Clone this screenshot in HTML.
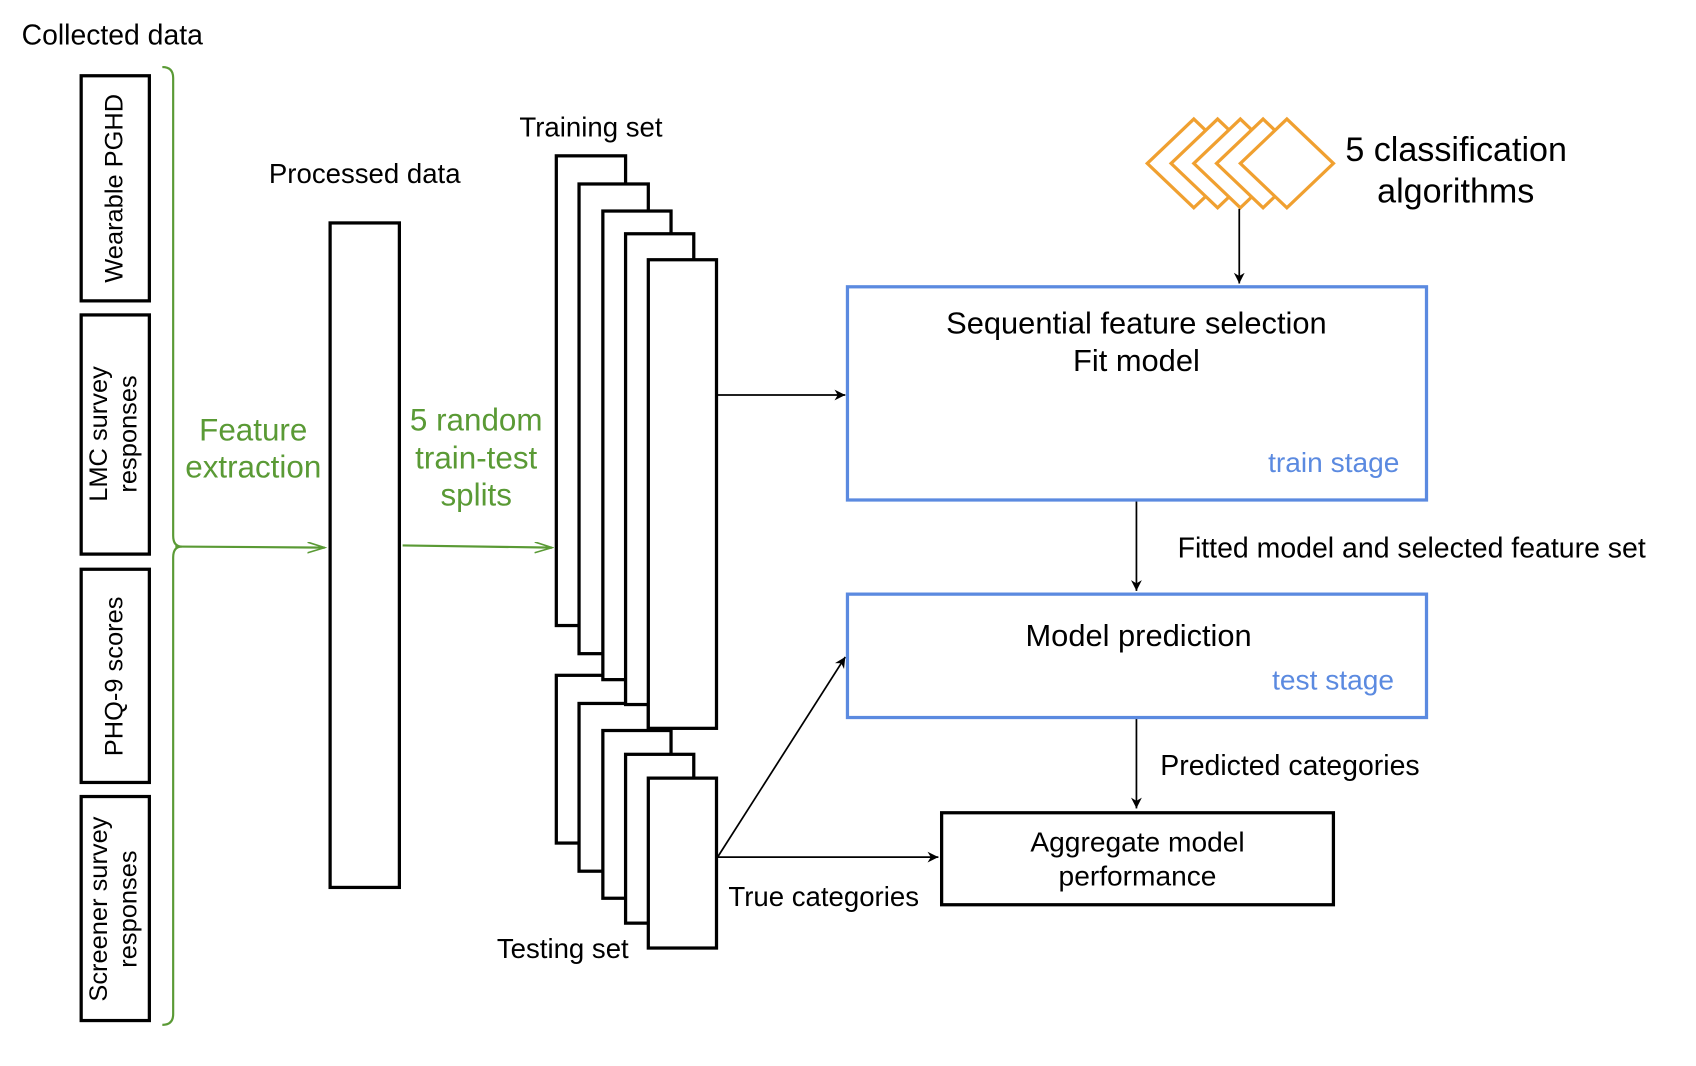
<!DOCTYPE html>
<html><head><meta charset="utf-8"><style>html,body{margin:0;padding:0;background:#fff}svg{display:block}</style></head>
<body>
<svg width="1696" height="1066" viewBox="0 0 1567 985" preserveAspectRatio="none" xmlns="http://www.w3.org/2000/svg" font-family="Liberation Sans, sans-serif">
<defs>
<marker id="ab" markerWidth="12" markerHeight="12" refX="10" refY="5" orient="auto" markerUnits="userSpaceOnUse"><path d="M0,0 L10,5 L0,10 L3,5 Z" fill="#000"/></marker>
<marker id="ag" markerWidth="18" markerHeight="12" refX="16" refY="5" orient="auto" markerUnits="userSpaceOnUse"><path d="M0,0 L16,5 L0,10" fill="none" stroke="#5a9a35" stroke-width="1.5"/></marker>
</defs>
<text x="20" y="41" font-size="26.2">Collected data</text>
<g fill="#fff" stroke="#000" stroke-width="3">
<rect x="75" y="70" width="63" height="208"/>
<rect x="75" y="291" width="63" height="221"/>
<rect x="75" y="526" width="63" height="197"/>
<rect x="75" y="736" width="63" height="207"/>
</g>
<g font-size="23.5" text-anchor="middle">
<text transform="translate(113,174) rotate(-90)">Wearable PGHD</text>
<text transform="translate(99,401) rotate(-90)">LMC survey</text>
<text transform="translate(126,401) rotate(-90)">responses</text>
<text transform="translate(113,625) rotate(-90)">PHQ-9 scores</text>
<text transform="translate(99,840) rotate(-90)">Screener survey</text>
<text transform="translate(126,840) rotate(-90)">responses</text>
</g>
<path d="M150,62 q10,0 10,10 V495 q0,10 8,10 q-8,0 -8,10 V937 q0,10 -10,10" fill="none" stroke="#5a9a35" stroke-width="2"/>
<line x1="162" y1="505" x2="300" y2="506" stroke="#5a9a35" stroke-width="2" marker-end="url(#ag)"/>
<line x1="372" y1="504" x2="510" y2="506" stroke="#5a9a35" stroke-width="2" marker-end="url(#ag)"/>
<g fill="#5a9a35" font-size="29" text-anchor="middle">
<text x="234" y="407">Feature</text>
<text x="234" y="441">extraction</text>
<text x="440" y="398">5 random</text>
<text x="440" y="433">train-test</text>
<text x="440" y="467">splits</text>
</g>
<text x="337" y="169" font-size="25.5" text-anchor="middle">Processed data</text>
<rect x="305" y="206" width="64" height="614" fill="#fff" stroke="#000" stroke-width="3"/>
<g fill="#fff" stroke="#000" stroke-width="3">
<rect x="514" y="624" width="64" height="155"/>
<rect x="535" y="650" width="64" height="155"/>
<rect x="557" y="675" width="63" height="155"/>
<rect x="578" y="697" width="63" height="156"/>
<rect x="599" y="719" width="63" height="157"/>
<rect x="514" y="144" width="64" height="434"/>
<rect x="535" y="170" width="64" height="434"/>
<rect x="557" y="195" width="63" height="433"/>
<rect x="578" y="216" width="63" height="435"/>
<rect x="599" y="240" width="63" height="433"/>
</g>
<text x="546" y="126" font-size="25.5" text-anchor="middle">Training set</text>
<text x="520" y="885" font-size="25.5" text-anchor="middle">Testing set</text>
<g fill="#fff" stroke="#f0a030" stroke-width="3">
<path d="M1060,151 l43,-41 l43,41 l-43,41 Z"/>
<path d="M1082,151 l43,-41 l43,41 l-43,41 Z"/>
<path d="M1103,151 l43,-41 l43,41 l-43,41 Z"/>
<path d="M1124,151 l43,-41 l43,41 l-43,41 Z"/>
<path d="M1146,151 l43,-41 l43,41 l-43,41 Z"/>
</g>
<text x="1243" y="149" font-size="31.5">5 classification</text>
<text x="1345" y="187" font-size="31.5" text-anchor="middle">algorithms</text>
<g stroke="#000" stroke-width="1.6" fill="none">
<line x1="1145" y1="193" x2="1145" y2="262" marker-end="url(#ab)"/>
<line x1="663" y1="365" x2="781" y2="365" marker-end="url(#ab)"/>
<line x1="1050" y1="463" x2="1050" y2="546" marker-end="url(#ab)"/>
<line x1="1050" y1="664" x2="1050" y2="747" marker-end="url(#ab)"/>
<line x1="663" y1="792" x2="867" y2="792" marker-end="url(#ab)"/>
<line x1="663" y1="792" x2="781" y2="607" marker-end="url(#ab)"/>
</g>
<rect x="783" y="265" width="535" height="197" fill="none" stroke="#5b8ae0" stroke-width="3"/>
<text x="1050" y="308" font-size="28.5" text-anchor="middle">Sequential feature selection</text>
<text x="1050" y="343" font-size="28.5" text-anchor="middle">Fit model</text>
<text x="1293" y="436" font-size="26" text-anchor="end" fill="#5b8ae0">train stage</text>
<text x="1088" y="515" font-size="26.3">Fitted model and selected feature set</text>
<rect x="783" y="549" width="535" height="114" fill="none" stroke="#5b8ae0" stroke-width="3"/>
<text x="1052" y="597" font-size="28.5" text-anchor="middle">Model prediction</text>
<text x="1288" y="637" font-size="26" text-anchor="end" fill="#5b8ae0">test stage</text>
<text x="1072" y="716" font-size="26.3">Predicted categories</text>
<rect x="870" y="751" width="362" height="85" fill="none" stroke="#000" stroke-width="3"/>
<text x="1051" y="787" font-size="26" text-anchor="middle">Aggregate model</text>
<text x="1051" y="818" font-size="26" text-anchor="middle">performance</text>
<text x="673" y="837" font-size="25.5">True categories</text>
</svg>
</body></html>
